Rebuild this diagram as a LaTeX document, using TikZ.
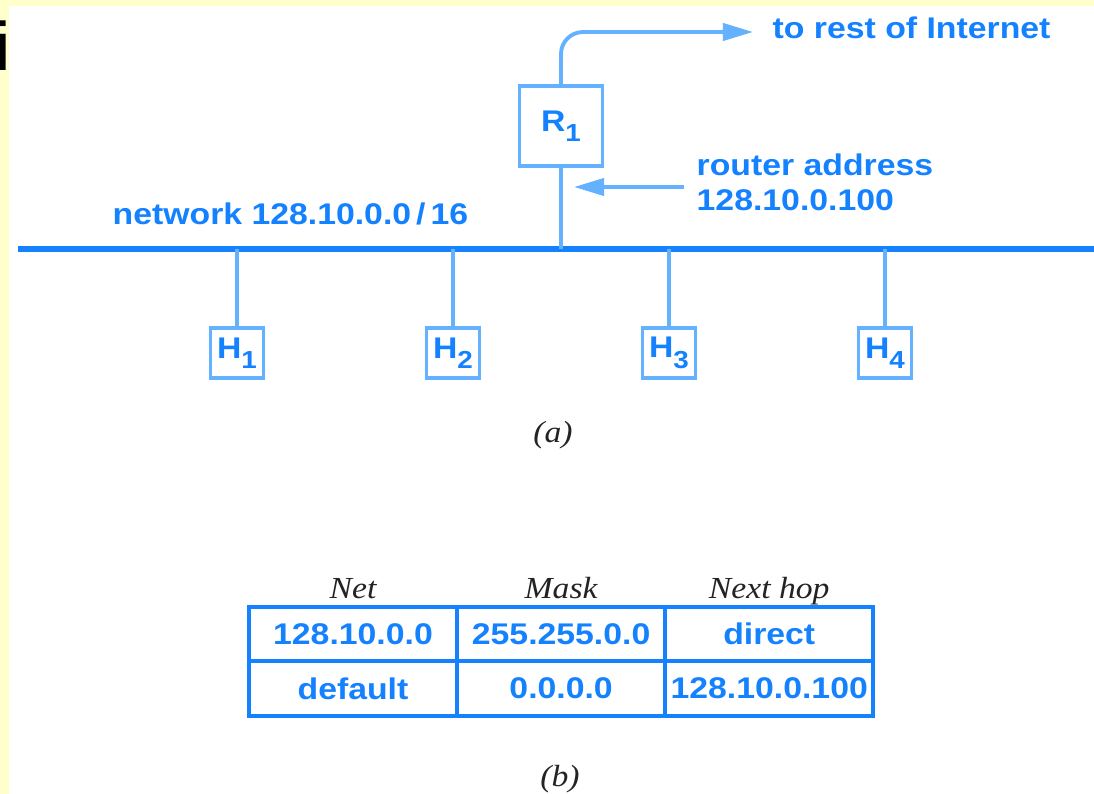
\documentclass[tikz,border=0pt]{standalone}
\usepackage{fontspec}
\setmainfont{Liberation Serif}[FakeStretch=1.1]
\setsansfont{Liberation Sans}[FakeStretch=1.13]
\newfontfamily\plainsans{Liberation Sans}
\usepackage{xcolor}
\usetikzlibrary{arrows.meta, positioning, calc}
\definecolor{netblue}{RGB}{20,130,255}
\definecolor{linkblue}{RGB}{100,178,255}
\definecolor{bgyellow}{RGB}{255,255,204}
\definecolor{capgray}{RGB}{35,35,35}
\newcommand\subnum[1]{\raisebox{-3pt}{\fontsize{7}{7}\selectfont #1}}

\begin{document}
\begin{tikzpicture}[
    x=0.01cm, y=-0.01cm,
    label/.style={text=netblue, font=\sffamily\bfseries\fontsize{8.5}{9.96}\selectfont, inner sep=0pt},
    device/.style={rectangle, draw=linkblue, line width=1.1pt, fill=white, text=netblue, font=\sffamily\bfseries\fontsize{8.5}{9.96}\selectfont, inner sep=0pt},
    router/.style={device, minimum width=0.83cm, minimum height=0.8cm},
    host/.style={device, minimum width=0.53cm, minimum height=0.5cm},
    link/.style={draw=linkblue, line width=1.1pt},
    lan/.style={draw=netblue, line width=1.45pt},
    arrow/.style={link, -{Triangle[length=0.3cm, width=0.17cm]}},
    cell/.style={rectangle, draw=netblue, line width=1.1pt, outer sep=0pt, minimum width=2.08cm, minimum height=0.545cm, text=netblue, font=\sffamily\bfseries\fontsize{8.5}{9.96}\selectfont, inner sep=0pt},
    colhead/.style={text=capgray, font=\rmfamily\itshape\fontsize{8.7}{10}\selectfont, inner sep=0pt},
    caption/.style={colhead}
]
\useasboundingbox (0,0) rectangle (1094,794);
\fill[bgyellow] (0,0) rectangle (1094,794);
\fill[white] (9,6) rectangle (1094,794);
\node[anchor=base west, inner sep=0pt, font=\plainsans\fontsize{19.5}{22}\selectfont] (stray) at (-5,70.7) {i};

% Nodes
\node (r1) [router] at (561,126) {R\subnum{1}};
\node (h1) [host] at (237,353) {H\subnum{1}};
\node (h2) [host] at (453,353) {H\subnum{2}};
\node (h3) [host] at (669,353) {H\subnum{3}};
\node (h4) [host] at (885,353) {H\subnum{4}};
\node (inettext) [label, anchor=base west] at (772,39) {to rest of Internet};
\node (raddr) [label, align=left, anchor=west] at (696,182.7) {router address\\128.10.0.100};
\node (netlabel) [label, anchor=base west] at (112,225) {network 128.10.0.0\,/\,16};
\node (capa) [caption, anchor=base] at (553,442) {(a)};

\coordinate (netw) at (18,249);
\coordinate (nete) at (1094,249);
\coordinate (inet) at (753,32);
\coordinate (addrtail) at (684,187);
\coordinate (addrtip) at (574,187);

% Table
\node (c11) [cell] at (353,634) {128.10.0.0};
\node (c12) [cell, right=0pt of c11] {255.255.0.0};
\node (c13) [cell, right=0pt of c12] {direct};
\node (c21) [cell, below=0pt of c11] {default};
\node (c22) [cell, below=0pt of c12] {0.0.0.0};
\node (c23) [cell, below=0pt of c13] {128.10.0.100};
\node (hnet) [colhead, anchor=base] at ([yshift=0.08cm]c11.north) {Net};
\node (hmask) [colhead, anchor=base] at ([yshift=0.08cm]c12.north) {Mask};
\node (hnext) [colhead, anchor=base] at ([yshift=0.08cm]c13.north) {Next hop};
\node (capb) [caption, anchor=base] at (560,786) {(b)};

% Lines
\draw [lan] (netw) -- (nete);
\draw [link] (r1.south) -- (r1.south |- netw);
\foreach \h in {h1,h2,h3,h4}
    \draw [link] (\h.north) -- (\h.north |- netw);

% Arrows
\draw [arrow, rounded corners=0.22cm] (r1.north) |- (inet);
\draw [arrow] (addrtail) -- (addrtip);

\end{tikzpicture}
\end{document}
